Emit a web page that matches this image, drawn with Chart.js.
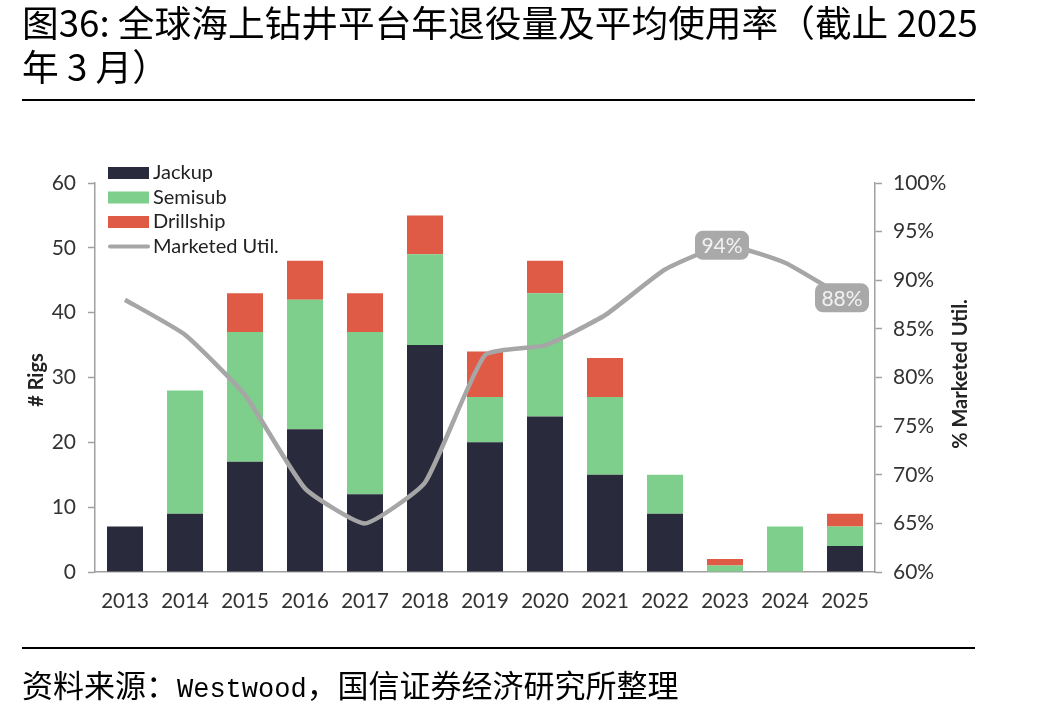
<!DOCTYPE html>
<html>
<head>
<meta charset="utf-8">
<script src="https://cdn.jsdelivr.net/npm/chart.js@4.4.1/dist/chart.umd.min.js"></script>
<style>
  html, body { margin:0; padding:0; background:#fff; }
  #wrap { position:relative; width:1047px; height:714px; overflow:hidden; }
  #c { position:absolute; left:0; top:0; }
  .title { position:absolute; left:22px; top:-1px; font-family:"Noto Sans CJK SC"; font-size:36.7px; line-height:44px; color:#000; white-space:nowrap; }
  .rule { position:absolute; left:22px; width:953px; height:2px; background:#000; }
  .src { position:absolute; left:22px; top:664px; font-family:"Noto Sans CJK SC"; font-size:31px; line-height:40px; color:#000; white-space:nowrap; }
  .mono { font-family:"Liberation Mono"; font-size:27px; }
</style>
</head>
<body>
<div id="wrap">
  <canvas id="c" width="1047" height="714"></canvas>
  <div class="title">图36: 全球海上钻井平台年退役量及平均使用率（截止 2025<br>年 3 月）</div>
  <div class="rule" style="top:99px"></div>
  <div class="rule" style="top:647px"></div>
  <div class="src">资料来源：<span class="mono">Westwood</span>，国信证券经济研究所整理</div>
</div>
<script>
const years = ['2013','2014','2015','2016','2017','2018','2019','2020','2021','2022','2023','2024','2025'];
const jackup    = [7, 9, 17, 22, 12, 35, 20, 24, 15, 9, 0, 0, 4];
const semisub   = [0, 19, 20, 20, 25, 14, 7, 19, 12, 6, 1, 7, 3];
const drillship = [0, 0, 6, 6, 6, 6, 7, 5, 6, 0, 1, 0, 2];
const marketedUtil = [88, 84.4, 78.2, 68.6, 65, 69.2, 82.3, 83.3, 86.4, 91.1, 93.6, 91.8, 88.2];
const labelledYears = ['2023', '2025'];
const leftTicks = [0, 60, 10];
const rightTicks = [60, 100, 5];

const C_JACK = '#2a2a3d', C_SEMI = '#7dcf8b', C_DRILL = '#e05b45', C_LINE = '#a6a6a6';
const AXIS = '#a0a0a0', TXT = '#333333';
const FONT = 'Lato';

const legendPlugin = {
  id: 'customLegend',
  afterDraw(chart) {
    const ctx = chart.ctx;
    ctx.save();
    const items = [
      {t:'Jackup', c:C_JACK, type:'box'},
      {t:'Semisub', c:C_SEMI, type:'box'},
      {t:'Drillship', c:C_DRILL, type:'box'},
      {t:'Marketed Util.', c:C_LINE, type:'line'}
    ];
    ctx.font = '20px ' + FONT;
    ctx.textBaseline = 'middle';
    items.forEach((it, i) => {
      const y = 173 + i * 24.5;
      if (it.type === 'box') {
        ctx.fillStyle = it.c;
        ctx.fillRect(108, y - 6, 41, 12);
      } else {
        ctx.strokeStyle = it.c; ctx.lineWidth = 4; ctx.lineCap = 'round';
        ctx.beginPath(); ctx.moveTo(110, y); ctx.lineTo(148, y); ctx.stroke();
      }
      ctx.fillStyle = '#222';
      ctx.fillText(it.t, 153, y);
    });
    ctx.font = 'bold 20px ' + FONT;
    ctx.fillStyle = '#222';
    ctx.textAlign = 'center';
    ctx.translate(37, 380); ctx.rotate(-Math.PI/2); ctx.fillText('# Rigs', 0, 0);
    ctx.setTransform(1,0,0,1,0,0);
    ctx.translate(961, 374); ctx.rotate(-Math.PI/2); ctx.fillText('% Marketed Util.', 0, 0);
    ctx.restore();
  }
};

const labelPlugin = {
  id: 'pointLabels',
  afterDatasetsDraw(chart) {
    const ctx = chart.ctx;
    const meta = chart.getDatasetMeta(3);
    ctx.save();
    ctx.font = '21px ' + FONT;
    ctx.textAlign = 'center'; ctx.textBaseline = 'middle';
    years.forEach((y, i) => {
      if (!labelledYears.includes(y)) return;
      const p = meta.data[i];
      const txt = Math.round(marketedUtil[i]) + '%';
      const w = 54, h = 29;
      ctx.fillStyle = '#a9a9a9';
      ctx.beginPath();
      ctx.roundRect(p.x - w/2 - 3, p.y - h/2, w, h, 8);
      ctx.fill();
      ctx.fillStyle = '#f2f2f2';
      ctx.fillText(txt, p.x - 3, p.y + 1);
    });
    ctx.restore();
  }
};

new Chart(document.getElementById('c'), {
  data: {
    labels: years,
    datasets: [
      {type:'bar', label:'Jackup', data:jackup, backgroundColor:C_JACK, stack:'s', yAxisID:'y', order:1, barPercentage:0.6, categoryPercentage:1},
      {type:'bar', label:'Semisub', data:semisub, backgroundColor:C_SEMI, stack:'s', yAxisID:'y', order:1, barPercentage:0.6, categoryPercentage:1},
      {type:'bar', label:'Drillship', data:drillship, backgroundColor:C_DRILL, stack:'s', yAxisID:'y', order:1, barPercentage:0.6, categoryPercentage:1},
      {type:'line', label:'Marketed Util.', data:marketedUtil, borderColor:C_LINE, borderWidth:4.5, pointRadius:0, tension:0.15, yAxisID:'y1', order:0, fill:false}
    ]
  },
  options: {
    responsive:false, animation:false, devicePixelRatio:1,
    layout:{padding:{top:183, left:0, right:0, bottom:0}},
    plugins:{legend:{display:false}, tooltip:{enabled:false}, title:{display:false}},
    scales:{
      x:{
        stacked:true,
        grid:{display:false},
        border:{display:true, color:AXIS, width:1.5},
        ticks:{color:TXT, font:{family:FONT, size:20.5}, padding:9, maxRotation:0},
        afterFit(s){ s.height = 714 - 572; }
      },
      y:{
        stacked:true, position:'left', min:leftTicks[0], max:leftTicks[1],
        grid:{drawOnChartArea:false, tickLength:7, color:AXIS, tickWidth:1.5},
        border:{display:true, color:AXIS, width:1.5},
        ticks:{stepSize:leftTicks[2], color:TXT, font:{family:FONT, size:21}, padding:12},
        afterFit(s){ s.width = 95; }
      },
      y1:{
        position:'right', min:rightTicks[0], max:rightTicks[1],
        grid:{drawOnChartArea:false, tickLength:7, color:AXIS, tickWidth:1.5},
        border:{display:true, color:AXIS, width:1.5},
        ticks:{stepSize:rightTicks[2], color:TXT, font:{family:FONT, size:21}, padding:11, callback:v => v + '%'},
        afterFit(s){ s.width = 1047 - 875; }
      }
    }
  },
  plugins:[legendPlugin, labelPlugin]
});
</script>
</body>
</html>
